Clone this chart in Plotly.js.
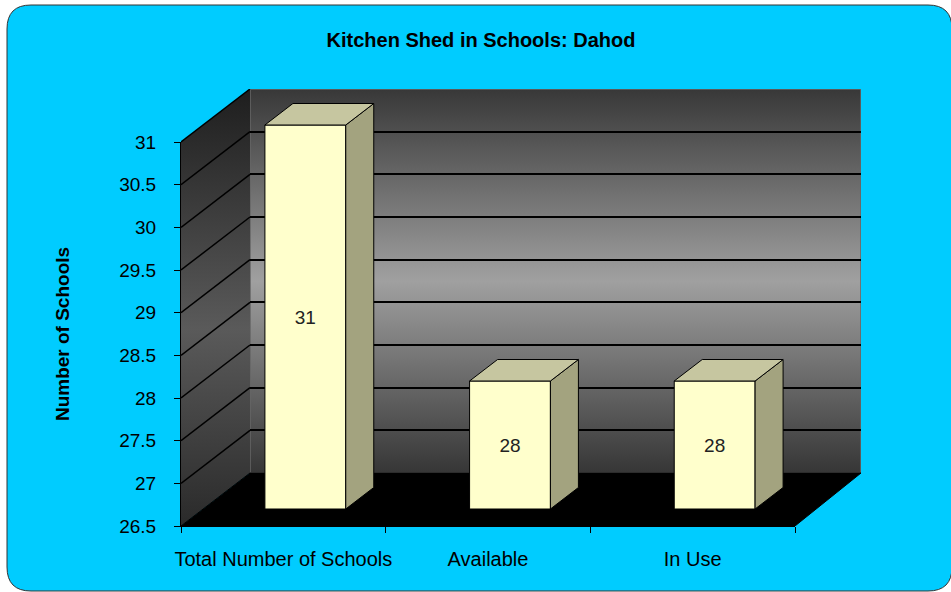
<!DOCTYPE html>
<html>
<head>
<meta charset="utf-8">
<script src="https://cdn.plot.ly/plotly-3.0.1.min.js"></script>
<style>
html, body { margin: 0; padding: 0; background: #ffffff; }
#chart { width: 951px; height: 592px; }
</style>
</head>
<body>
<div id="chart"></div>
<script>
// ---------------- data ----------------
const categories = ['Total Number of Schools', 'Available', 'In Use'];
const schools = [31, 28, 28];
const yTickVals = [26.5, 27, 27.5, 28, 28.5, 29, 29.5, 30, 30.5, 31];
const yTickText = ['26.5', '27', '27.5', '28', '28.5', '29', '29.5', '30', '30.5', '31'];
const chartTitle = 'Kitchen Shed in Schools: Dahod';
const yAxisTitle = 'Number of Schools';

// ---------------- geometry (pixels) ----------------
const W = 951, H = 592;
const L = 181, B = 526;        // front plane origin (bottom-left)
const FW = 614, FH = 384;      // front plane size
const DX = 69, DY = 53;        // offset of back wall
const BACKW = FW - 3;          // back wall width
const BX = 22, BY = 17;        // offset of bar front faces
const BDX = 28, BDY = 21.5;    // depth of bars
const BARW = 0.395;            // bar width in category units

const yMin = yTickVals[0];
const yMax = yTickVals[yTickVals.length - 1];
const plotW = DX + BACKW;      // 680
const plotH = DY + FH;         // 437
const ux = FW / categories.length;   // px per category
const uy = FH / (yMax - yMin);       // px per unit

const FONT = 'Liberation Sans, Arial, sans-serif';
const idx = categories.map((c, i) => i);

// px -> paper
const px = x => (x - L) / plotW;
const py = y => (B - y) / plotH;

// ---------------- background (pixel-space axes) ----------------
const backTop = B - DY - FH, backBot = B - DY;
const backL = L + DX, backR = L + DX + BACKW;

const backWall = {
  type: 'scatter', xaxis: 'x', yaxis: 'y', mode: 'lines',
  x: [backL, backR, backR, backL, backL],
  y: [backTop, backTop, backBot, backBot, backTop],
  fill: 'toself',
  fillgradient: { type: 'vertical', start: backTop, stop: backBot,
    colorscale: [[0, '#383838'], [0.5, '#a0a0a0'], [1, '#363636']] },
  line: { color: '#666666', width: 1.5 },
  hoverinfo: 'skip'
};

const leftWall = {
  type: 'scatter', xaxis: 'x', yaxis: 'y', mode: 'lines',
  x: [L, backL, backL, L, L],
  y: [B - FH, backTop, backBot, B, B - FH],
  fill: 'toself',
  fillgradient: { type: 'vertical', start: backTop, stop: B,
    colorscale: [[0, '#1e1e1e'], [0.55, '#5a5a5a'], [1, '#2a2a2a']] },
  line: { color: 'rgba(0,0,0,0)', width: 0 },
  hoverinfo: 'skip'
};

const floor = {
  type: 'scatter', xaxis: 'x', yaxis: 'y', mode: 'lines',
  x: [L, L + FW, backR, backL, L],
  y: [B, B, backBot, backBot, B],
  fill: 'toself', fillcolor: '#000000',
  line: { color: '#000000', width: 1 },
  hoverinfo: 'skip'
};

// diagonal grid lines on the left wall, from each tick value
const diagX = [], diagY = [];
yTickVals.slice(1).forEach(v => {
  diagX.push(L, backL, null);
  diagY.push(B - (v - yMin) * uy, backBot - (v - yMin) * uy, null);
});
const leftGrid = {
  type: 'scatter', xaxis: 'x', yaxis: 'y', mode: 'lines',
  x: diagX, y: diagY,
  line: { color: '#000000', width: 1.5 },
  hoverinfo: 'skip'
};

// back wall gridlines come from yaxis2 gridlines
const backDummy = {
  type: 'scatter', xaxis: 'x2', yaxis: 'y2', mode: 'none',
  x: idx, y: schools, hoverinfo: 'skip'
};

// ---------------- bars (bar-plane axes) ----------------
const bars = {
  type: 'bar', xaxis: 'x3', yaxis: 'y3',
  x: idx, base: yMin, y: schools.map(v => v - yMin), width: BARW,
  marker: { color: '#FFFFCC', line: { color: '#000000', width: 1 } },
  text: schools.map(String),
  textposition: 'inside', insidetextanchor: 'middle', textangle: 0,
  constraintext: 'none',
  textfont: { family: FONT, size: 19, color: '#222222' },
  hoverinfo: 'skip'
};

const ddx = BDX / ux, ddy = BDY / uy;
const topX = [], topY = [], sideX = [], sideY = [];
schools.forEach((v, i) => {
  const xl = i - BARW / 2, xr = i + BARW / 2;
  topX.push(xl, xl + ddx, xr + ddx, xr, xl, null);
  topY.push(v, v + ddy, v + ddy, v, v, null);
  sideX.push(xr, xr + ddx, xr + ddx, xr, xr, null);
  sideY.push(v, v + ddy, yMin + ddy, yMin, v, null);
});
const topFaces = {
  type: 'scatter', xaxis: 'x3', yaxis: 'y3', mode: 'lines',
  x: topX, y: topY, fill: 'toself', fillcolor: '#C6C6A0',
  line: { color: '#000000', width: 1 }, hoverinfo: 'skip'
};
const sideFaces = {
  type: 'scatter', xaxis: 'x3', yaxis: 'y3', mode: 'lines',
  x: sideX, y: sideY, fill: 'toself', fillcolor: '#A3A37F',
  line: { color: '#000000', width: 1 }, hoverinfo: 'skip'
};

// front axes
const frontDummy = {
  type: 'scatter', xaxis: 'x4', yaxis: 'y4', mode: 'none',
  x: categories, y: schools, hoverinfo: 'skip'
};

// ---------------- layout ----------------
const hidden = { visible: false, showgrid: false, zeroline: false, fixedrange: true };

// rounded cyan frame (pixels -> paper)
const fx0 = 7, fy0 = 5, fx1 = 952, fy1 = 591, r = 24;
const rx = r / plotW, ry = r / plotH;
const X0 = px(fx0), X1 = px(fx1), Y0 = py(fy0), Y1 = py(fy1);
const framePath =
  `M ${X0 + rx},${Y0} L ${X1 - rx},${Y0} Q ${X1},${Y0} ${X1},${Y0 - ry} ` +
  `L ${X1},${Y1 + ry} Q ${X1},${Y1} ${X1 - rx},${Y1} ` +
  `L ${X0 + rx},${Y1} Q ${X0},${Y1} ${X0},${Y1 + ry} ` +
  `L ${X0},${Y0 - ry} Q ${X0},${Y0} ${X0 + rx},${Y0} Z`;

const layout = {
  width: W, height: H,
  margin: { l: L, r: W - (L + plotW), t: B - plotH, b: H - B, pad: 0 },
  paper_bgcolor: '#ffffff',
  plot_bgcolor: 'rgba(0,0,0,0)',
  showlegend: false,
  title: {
    text: chartTitle,
    font: { family: FONT, size: 20, color: '#000000', weight: 'bold' },
    x: 481 / W, xref: 'container', xanchor: 'center',
    y: 1 - 40 / H, yref: 'container', yanchor: 'middle'
  },
  xaxis: Object.assign({ domain: [0, 1], range: [L, L + plotW], anchor: 'y' }, hidden),
  yaxis: Object.assign({ domain: [0, 1], range: [B, B - plotH], anchor: 'x' }, hidden),
  xaxis2: Object.assign({ domain: [DX / plotW, 1], range: [-0.5, -0.5 + BACKW / ux], anchor: 'y2' }, hidden),
  yaxis2: {
    domain: [DY / plotH, 1], range: [yMin, yMin + FH / uy], anchor: 'x2',
    tickvals: yTickVals, showticklabels: false, ticks: '',
    showgrid: true, gridcolor: '#000000', gridwidth: 1.5,
    zeroline: false, showline: false, fixedrange: true
  },
  xaxis3: Object.assign({ domain: [BX / plotW, 1], range: [-0.5, -0.5 + (plotW - BX) / ux], anchor: 'y3' }, hidden),
  yaxis3: Object.assign({ domain: [BY / plotH, 1], range: [yMin, yMin + (plotH - BY) / uy], anchor: 'x3' }, hidden),
  xaxis4: {
    domain: [0, FW / plotW], anchor: 'y4', type: 'category',
    categoryorder: 'array', categoryarray: categories,
    range: [-0.5, categories.length - 0.5],
    showline: true, linecolor: '#000000', linewidth: 1,
    ticks: 'outside', tickson: 'boundaries', ticklen: 6, tickcolor: '#000000', tickwidth: 1,
    tickangle: 0, ticklabelstandoff: 15,
    tickfont: { family: FONT, size: 20, color: '#000000' },
    showgrid: false, zeroline: false, fixedrange: true
  },
  yaxis4: {
    domain: [0, FH / plotH], anchor: 'x4', range: [yMin, yMax],
    tickmode: 'array', tickvals: yTickVals, ticktext: yTickText,
    showline: true, linecolor: '#000000', linewidth: 1,
    ticks: 'outside', ticklen: 6, tickcolor: '#000000', tickwidth: 1,
    ticklabelstandoff: 14,
    tickfont: { family: FONT, size: 19, color: '#000000' },
    showgrid: false, zeroline: false, fixedrange: true,
    title: { text: yAxisTitle, standoff: 44,
      font: { family: FONT, size: 19, color: '#000000', weight: 'bold' } }
  },
  shapes: [{
    type: 'path', xref: 'paper', yref: 'paper', layer: 'below',
    path: framePath, fillcolor: '#00CCFF',
    line: { color: '#333333', width: 1 }
  }]
};

Plotly.newPlot('chart',
  [backWall, leftWall, floor, leftGrid, backDummy, bars, sideFaces, topFaces, frontDummy],
  layout, { displayModeBar: false, responsive: false });
</script>
</body>
</html>
